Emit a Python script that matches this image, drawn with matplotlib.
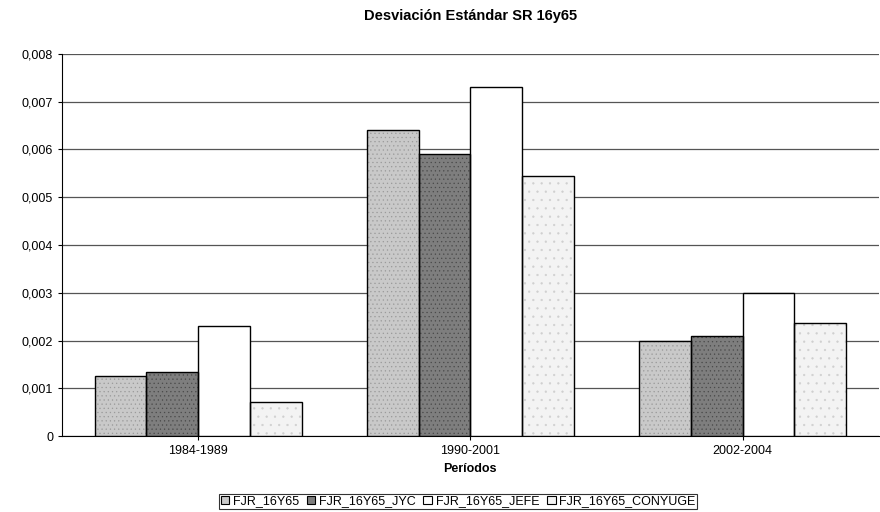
import numpy as np
import matplotlib.pyplot as plt
from matplotlib.ticker import FuncFormatter

plt.rcParams['font.family'] = ['Liberation Sans', 'DejaVu Sans']
plt.rcParams['hatch.linewidth'] = 0.4

periodos = ["1984-1989", "1990-2001", "2002-2004"]
series = ["FJR_16Y65", "FJR_16Y65_JYC", "FJR_16Y65_JEFE", "FJR_16Y65_CONYUGE"]
fjr_16y65 = [0.00125, 0.0064, 0.0020]
fjr_jyc = [0.00134, 0.0059, 0.0021]
fjr_jefe = [0.0023, 0.0073, 0.0030]
fjr_conyuge = [0.00072, 0.00544, 0.00237]

colors = ["#c9c9c9", "#7e7e7e", "#ffffff", "#f3f3f3"]
hatches = ["....", "....", "", ".."]
hatch_cols = ["#9a9a9a", "#4a4a4a", "black", "#cfcfcf"]

fig = plt.figure(figsize=(8.8, 5.12), dpi=100)
ax = fig.add_axes([0.0705, 0.148, 0.928, 0.747])

x = np.arange(len(periodos))
w = 0.19
all_vals = [fjr_16y65, fjr_jyc, fjr_jefe, fjr_conyuge]
for i, (name, vals) in enumerate(zip(series, all_vals)):
    pos = x + (i - 1.5) * w
    # filled + stippled body
    ax.bar(pos, vals, w, color=colors[i], edgecolor=hatch_cols[i], hatch=hatches[i],
           linewidth=0, zorder=3)
    # black outline on top (also used for legend)
    ax.bar(pos, vals, w, color="none", edgecolor="black", linewidth=1.0, zorder=4)
    ax.bar([0], [0], 0, color=colors[i], edgecolor="black", linewidth=0.8, label=name)

ax.set_xlim(-0.5, 2.5)
ax.set_ylim(0, 0.008)
ax.set_yticks(np.arange(0, 0.0081, 0.001))
ax.yaxis.set_major_formatter(FuncFormatter(lambda v, p: "0" if v == 0 else f"{v:.3f}".replace(".", ",")))
ax.set_xticks(x)
ax.set_xticklabels(periodos)
ax.grid(axis="y", color="#555555", linewidth=0.9, zorder=0)
ax.tick_params(labelsize=9, length=3)
for s in ["top", "right"]:
    ax.spines[s].set_visible(False)

ax.set_title("Desviación Estándar SR 16y65", fontsize=10.5, fontweight="bold", pad=24)
ax.set_xlabel("Períodos", fontsize=9, fontweight="bold", labelpad=4)

leg = ax.legend(loc="upper center", bbox_to_anchor=(0.485, -0.135), ncol=4, fontsize=9,
                frameon=True, fancybox=False, edgecolor="black", handlelength=0.7,
                handleheight=0.7, handletextpad=0.3, columnspacing=0.6, borderpad=0.1)
leg.get_frame().set_linewidth(0.8)

fig.savefig("out.png", dpi=100)
